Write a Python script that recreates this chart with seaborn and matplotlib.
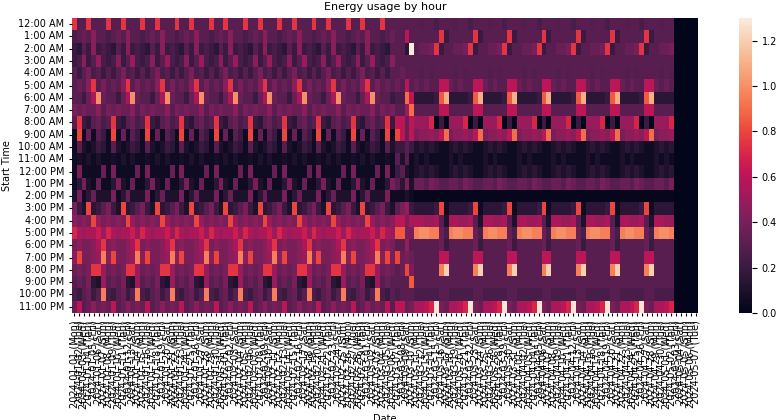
import numpy as np
import pandas as pd
import matplotlib
matplotlib.use("Agg")
import matplotlib.pyplot as plt
import seaborn as sns

hours = ["12:00 AM"] + [f"{h}:00 AM" for h in range(1, 12)] + ["12:00 PM"] + [f"{h}:00 PM" for h in range(1, 12)]
dates = pd.date_range("2024-01-01", "2024-05-07", freq="D")
date_labels = [d.strftime("%Y-%m-%d (%a)") for d in dates]

# typical week (Mon..Sun) per hour, early period (Jan 1 - Mar 6)
week_early = [
    [0.75, 0.3, 0.3, 0.75, 0.3, 0.3, 0.3],
    [0.25, 0.3, 0.35, 0.3, 0.45, 0.3, 0.3],
    [0.2, 0.15, 0.3, 0.2, 0.45, 0.2, 0.25],
    [0.2, 0.25, 0.45, 0.2, 0.3, 0.5, 0.25],
    [0.3, 0.2, 0.3, 0.4, 0.25, 0.3, 0.2],
    [0.3, 0.35, 0.3, 0.45, 0.75, 0.3, 0.4],
    [0.3, 0.3, 0.2, 0.35, 0.55, 1.0, 0.35],
    [0.4, 0.35, 0.4, 0.35, 0.35, 0.45, 0.3],
    [0.3, 0.75, 0.2, 0.15, 0.3, 0.35, 0.25],
    [0.05, 0.8, 0.05, 0.35, 0.05, 0.3, 0.2],
    [0.05, 0.3, 0.1, 0.05, 0.1, 0.2, 0.15],
    [0.05, 0.08, 0.05, 0.1, 0.05, 0.1, 0.05],
    [0.05, 0.4, 0.05, 0.05, 0.05, 0.05, 0.35],
    [0.05, 0.15, 0.4, 0.1, 0.05, 0.35, 0.05],
    [0.1, 0.4, 0.05, 0.15, 0.35, 0.1, 0.1],
    [0.4, 0.2, 0.1, 0.8, 0.15, 0.2, 0.3],
    [0.45, 0.4, 0.45, 0.4, 0.8, 0.5, 0.4],
    [0.7, 0.55, 0.5, 0.55, 0.55, 0.65, 0.5],
    [0.4, 0.45, 0.4, 0.4, 0.45, 0.55, 0.75],
    [0.45, 0.8, 0.4, 0.4, 0.45, 0.5, 0.95],
    [0.35, 0.4, 0.35, 0.4, 0.75, 0.75, 0.5],
    [0.3, 0.35, 0.3, 0.4, 0.15, 0.1, 0.5],
    [0.25, 0.2, 0.3, 0.35, 0.2, 0.3, 0.95],
    [0.35, 0.6, 0.3, 0.35, 0.45, 0.35, 0.4],
]

# transition days Mar 7 - Mar 10 (Thu..Sun)
transition = [
    [0.3, 0.3, 0.3, 0.3],
    [0.3, 0.3, 0.6, 0.3],
    [0.3, 0.3, 0.15, 1.3],
    [0.3, 0.3, 0.3, 0.3],
    [0.3, 0.35, 0.3, 0.3],
    [0.35, 0.3, 0.6, 0.3],
    [0.25, 0.25, 0.9, 0.6],
    [0.3, 0.3, 0.5, 0.9],
    [0.6, 0.6, 0.35, 0.6],
    [0.8, 0.6, 0.35, 0.6],
    [0.2, 0.2, 0.3, 0.2],
    [0.3, 0.1, 0.3, 0.05],
    [0.2, 0.3, 0.1, 0.05],
    [0.3, 0.15, 0.4, 0.1],
    [0.05, 0.05, 0.1, 0.05],
    [0.3, 0.4, 0.5, 0.2],
    [0.6, 0.6, 0.4, 0.55],
    [0.85, 0.85, 0.4, 0.4],
    [0.3, 0.3, 0.5, 0.3],
    [0.8, 0.35, 0.4, 0.35],
    [0.3, 0.35, 0.8, 0.4],
    [0.3, 0.3, 0.3, 0.85],
    [0.25, 0.3, 0.3, 0.3],
    [0.6, 0.6, 0.35, 0.4],
]

# typical week (Mon..Sun) per hour, later period (Mar 11 - May 2)
week_late = [
    [0.3, 0.28, 0.3, 0.3, 0.25, 0.3, 0.3],
    [0.3, 0.3, 0.3, 0.3, 0.3, 0.75, 0.2],
    [0.3, 0.35, 0.35, 0.4, 0.75, 0.2, 0.3],
    [0.3, 0.3, 0.3, 0.3, 0.3, 0.3, 0.3],
    [0.3, 0.28, 0.3, 0.28, 0.3, 0.3, 0.3],
    [0.35, 0.3, 0.35, 0.3, 0.3, 0.6, 0.6],
    [0.15, 0.15, 0.15, 0.15, 0.2, 0.85, 1.1],
    [0.3, 0.3, 0.3, 0.3, 0.3, 0.6, 0.6],
    [0.5, 0.5, 0.5, 0.7, 0.0, 0.2, 0.0],
    [0.4, 0.45, 0.45, 0.5, 0.45, 0.6, 0.9],
    [0.1, 0.15, 0.1, 0.15, 0.1, 0.05, 0.05],
    [0.1, 0.05, 0.1, 0.05, 0.05, 0.05, 0.05],
    [0.1, 0.15, 0.1, 0.15, 0.1, 0.05, 0.05],
    [0.35, 0.35, 0.3, 0.4, 0.35, 0.3, 0.3],
    [0.02, 0.02, 0.02, 0.02, 0.02, 0.02, 0.02],
    [0.15, 0.15, 0.15, 0.15, 0.2, 0.8, 0.05],
    [0.55, 0.55, 0.5, 0.5, 0.55, 0.3, 0.1],
    [0.95, 1.0, 1.0, 0.95, 0.95, 0.35, 0.25],
    [0.3, 0.3, 0.3, 0.3, 0.3, 0.35, 0.2],
    [0.3, 0.3, 0.3, 0.3, 0.3, 0.6, 0.6],
    [0.3, 0.3, 0.3, 0.3, 0.3, 0.95, 1.2],
    [0.3, 0.3, 0.3, 0.3, 0.3, 0.3, 0.3],
    [0.25, 0.25, 0.25, 0.25, 0.25, 0.3, 0.3],
    [0.55, 0.55, 0.6, 0.7, 1.28, 0.4, 0.35],
]

n_early = 66      # Jan 1 .. Mar 6
n_late = 53       # Mar 11 .. May 2
n_idle = len(dates) - n_early - len(transition[0]) - n_late  # no usage

cols = []
for c in range(n_early):
    cols.append([week_early[h][c % 7] for h in range(24)])
for k in range(len(transition[0])):
    cols.append([transition[h][k] for h in range(24)])
for c in range(n_early + 4, n_early + 4 + n_late):
    cols.append([week_late[h][c % 7] for h in range(24)])
for _ in range(n_idle):
    cols.append([0.0] * 24)

df = pd.DataFrame(np.array(cols).T, index=hours, columns=date_labels)

fig = plt.figure(figsize=(7.8, 4.2), dpi=100)
ax = fig.add_axes([0.092, 0.255, 0.803, 0.702])
cax = fig.add_axes([0.948, 0.255, 0.016, 0.702])
sns.heatmap(df, ax=ax, cbar_ax=cax, cmap="rocket", vmin=0, vmax=1.3,
            xticklabels=True, yticklabels=True)
ax.set_title("Energy usage by hour", fontsize=8)
ax.set_xlabel("Date", fontsize=7)
ax.set_ylabel("Start Time", fontsize=7)
ax.tick_params(axis="x", labelsize=7, rotation=90, length=2)
ax.tick_params(axis="y", labelsize=7, rotation=0, length=2)
cax.tick_params(labelsize=7)
fig.savefig("out.png", dpi=100)
